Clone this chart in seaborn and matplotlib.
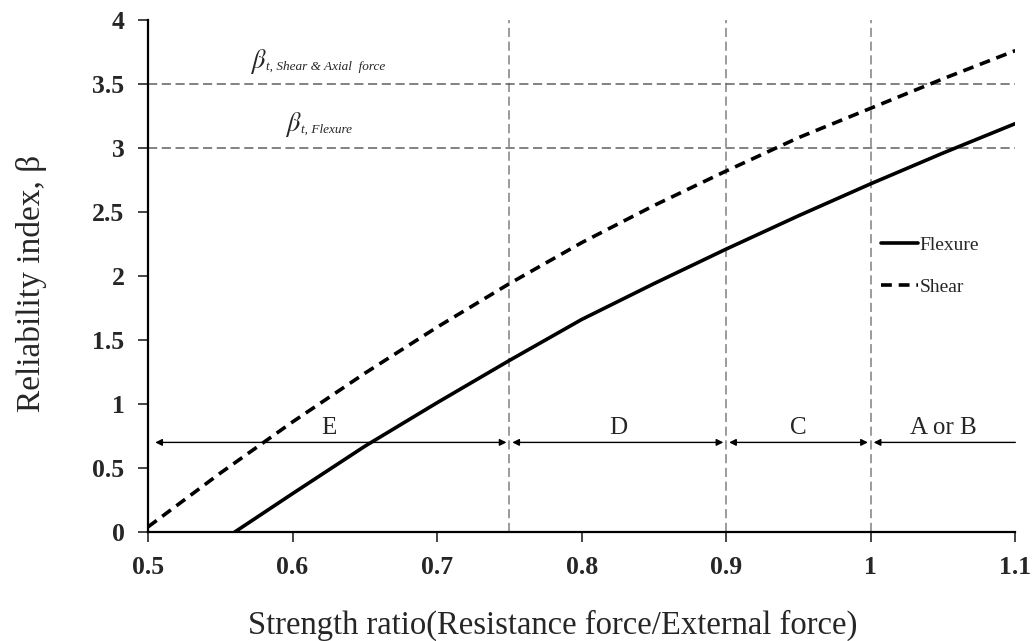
import matplotlib
matplotlib.use("Agg")
import matplotlib.pyplot as plt
import seaborn as sns
import pandas as pd

# ---- data ----
flexure_x = [0.56, 0.60, 0.65, 0.70, 0.75, 0.80, 0.85, 0.90, 0.95, 1.00, 1.05, 1.10]
flexure_y = [0.00, 0.30, 0.67, 1.01, 1.34, 1.66, 1.94, 2.21, 2.47, 2.72, 2.96, 3.19]
shear_x = [0.50, 0.55, 0.60, 0.65, 0.70, 0.75, 0.80, 0.85, 0.90, 0.95, 1.00, 1.05, 1.10]
shear_y = [0.04, 0.46, 0.86, 1.24, 1.60, 1.94, 2.26, 2.55, 2.82, 3.08, 3.31, 3.54, 3.76]

zone_bounds = [0.5, 0.75, 0.9, 1.0, 1.1]
zone_labels = ["E", "D", "C", "A or B"]
target_betas = [3.0, 3.5]
target_subs = ["t, Flexure", "t, Shear & Axial  force"]
xticks = [0.5, 0.6, 0.7, 0.8, 0.9, 1.0, 1.1]
xticklabels = ["0.5", "0.6", "0.7", "0.8", "0.9", "1", "1.1"]
yticks = [0, 0.5, 1, 1.5, 2, 2.5, 3, 3.5, 4]
yticklabels = ["0", "0.5", "1", "1.5", "2", "2.5", "3", "3.5", "4"]

df = pd.concat([
    pd.DataFrame({"x": flexure_x, "y": flexure_y, "series": "Flexure"}),
    pd.DataFrame({"x": shear_x, "y": shear_y, "series": "Shear"}),
], ignore_index=True)

sns.set_style("ticks")
plt.rcParams["font.family"] = ["Liberation Serif", "DejaVu Serif"]
plt.rcParams["mathtext.fontset"] = "stix"

fig = plt.figure(figsize=(10.35, 6.41), dpi=100)
ax = fig.add_axes([0.143, 0.170, 0.838, 0.799])

sns.lineplot(data=df, x="x", y="y", hue="series", style="series",
             palette={"Flexure": "black", "Shear": "black"},
             dashes={"Flexure": "", "Shear": (3.0, 1.9)},
             linewidth=2.6, ax=ax, sort=False, estimator=None)

# reference lines
for xv in zone_bounds[1:4]:
    ax.plot([xv, xv], [0, 4], color="#808080", lw=1.1, ls=(0, (6, 3)), zorder=1)
for yv in target_betas:
    ax.plot([0.5, 1.1], [yv, yv], color="#606060", lw=1.1, ls=(0, (6, 3)), zorder=1)

label_pos = [(0.5948, 3.07), (0.5706, 3.56)]
for (lx, ly), sub in zip(label_pos, target_subs):
    b = ax.text(lx, ly, r"$\beta$", fontsize=19, ha="left", va="bottom")
    ax.annotate(sub, xy=(0.95, 0.10), xycoords=b, fontsize=9.5, fontstyle="italic",
                ha="left", va="bottom")

# zone arrows
arrow_y = 0.70
for i, lab in enumerate(zone_labels):
    x0, x1 = zone_bounds[i], zone_bounds[i + 1]
    if i == 0:
        x0 = 0.503
    if i == len(zone_labels) - 1:
        ax.annotate("", xy=(x0 + 0.002, arrow_y), xytext=(x1, arrow_y),
                    arrowprops=dict(arrowstyle="-|>", color="black", lw=1.0,
                                    mutation_scale=10, shrinkA=0, shrinkB=0))
    else:
        ax.annotate("", xy=(x0 + 0.002, arrow_y), xytext=(x1 - 0.002, arrow_y),
                    arrowprops=dict(arrowstyle="<|-|>", color="black", lw=1.0,
                                    mutation_scale=10, shrinkA=0, shrinkB=0))
    ax.text((zone_bounds[i] + zone_bounds[i + 1]) / 2, arrow_y + 0.03, lab,
            fontsize=18, ha="center", va="bottom")

ax.set_xlim(0.5, 1.1)
ax.set_ylim(0, 4)
ax.set_xticks(xticks)
ax.set_xticklabels(xticklabels, fontsize=18.5, fontweight="bold")
ax.set_yticks(yticks)
ax.set_yticklabels(yticklabels, fontsize=18.5, fontweight="bold")
ax.tick_params(direction="out", length=7, width=1.2, pad=10)
ax.set_xlabel("Strength ratio(Resistance force/External force)", fontsize=23.5)
ax.set_ylabel("Reliability index, β", fontsize=24)
ax.xaxis.set_label_coords(0.467, -0.152)
ax.yaxis.set_label_coords(-0.116, 0.485)
sns.despine(ax=ax)
for s in ["left", "bottom"]:
    ax.spines[s].set_linewidth(1.6)
    ax.spines[s].set_color("black")

leg = ax.legend(loc="upper left", bbox_to_anchor=(0.845, 0.578), frameon=False,
                fontsize=14, handlelength=1.9, handletextpad=0.1, labelspacing=1.25,
                borderpad=0, borderaxespad=0)
leg.set_title(None)

fig.savefig("out.png", dpi=100)
